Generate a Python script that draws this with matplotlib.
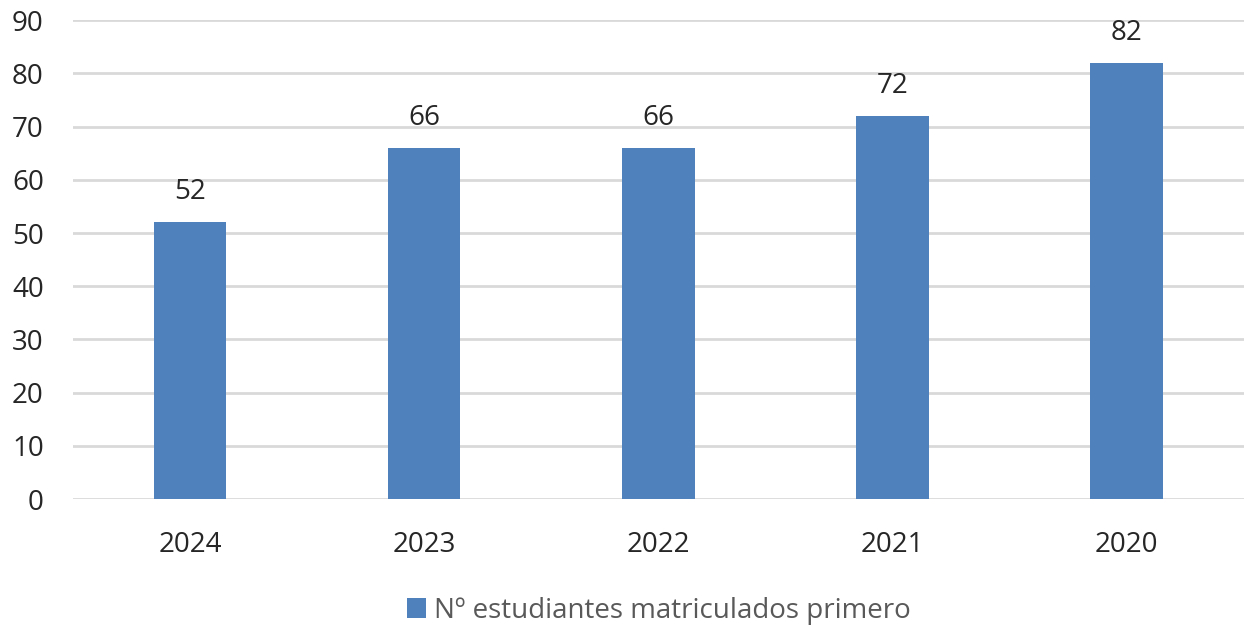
import matplotlib
matplotlib.use('Agg')
from matplotlib import pyplot as plt

years = ['2024', '2023', '2022', '2021', '2020']
students = [52, 66, 66, 72, 82]
series_name = 'Nº estudiantes matriculados primero'

bar_color = '#4F81BD'
grid_color = '#D9D9D9'

plt.rcParams['font.family'] = ['Open Sans', 'DejaVu Sans']

fig = plt.figure(figsize=(12.48, 6.31), dpi=100)
ax = fig.add_axes([0.0585, 0.209, 0.938, 0.759])

x = range(len(years))
bars = ax.bar(x, students, width=0.31, color=bar_color, label=series_name, zorder=3)

for xi, v in zip(x, students):
    ax.text(xi, v + 3.0, str(v), ha='center', va='bottom', fontsize=20, color='#262626')

ax.set_xlim(-0.5, len(years) - 0.5)
ax.set_ylim(0, 90)
ax.set_yticks(range(0, 91, 10))
ax.set_xticks(list(x))
ax.set_xticklabels(years)
ax.tick_params(axis='both', length=0, labelsize=20, labelcolor='#262626')
ax.tick_params(axis='x', pad=23)
ax.tick_params(axis='y', pad=21)
ax.yaxis.grid(True, color=grid_color, linewidth=2, zorder=0)
for s in ax.spines.values():
    s.set_visible(False)

fig.legend(handles=[bars], labels=[series_name], loc='lower center',
           bbox_to_anchor=(0.528, -0.03), frameon=False, fontsize=20,
           handlelength=0.7, handleheight=0.7, handletextpad=0.3,
           labelcolor='#595959')

fig.savefig('out.png', dpi=100)
